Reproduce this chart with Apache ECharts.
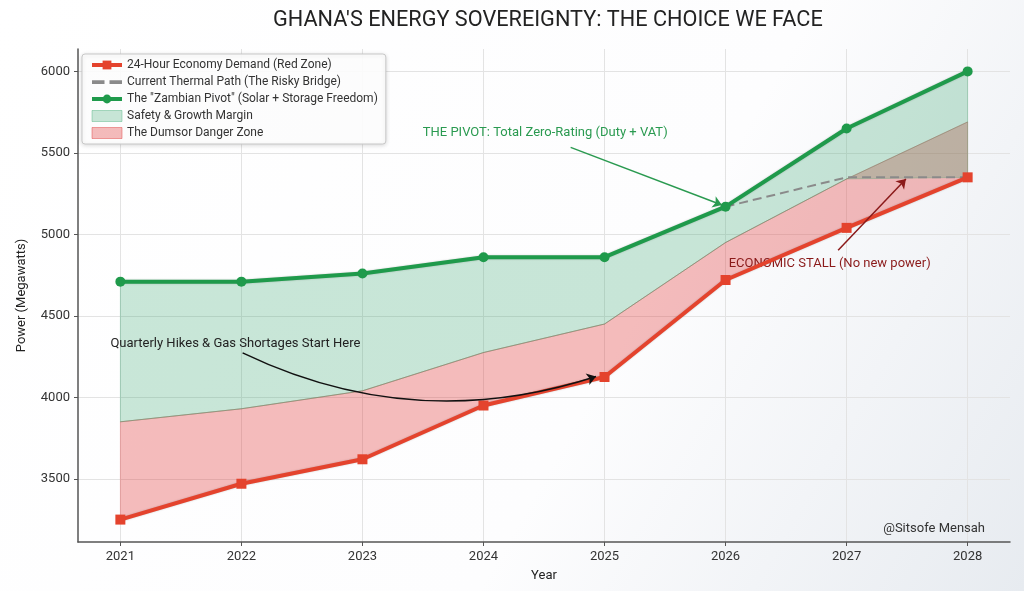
<!DOCTYPE html>
<html>
<head>
<meta charset="utf-8">
<title>Ghana's Energy Sovereignty</title>
<script src="https://cdn.jsdelivr.net/npm/echarts@6/dist/echarts.min.js"></script>
<style>
html, body { margin: 0; padding: 0; }
#main { width: 1024px; height: 591px; }
</style>
</head>
<body>
<div id="main"></div>
<script>
// values
var years = [2021, 2022, 2023, 2024, 2025, 2026, 2027, 2028];
var demand = [3250, 3470, 3620, 3950, 4125, 4720, 5040, 5350];
var pivot = [4710, 4710, 4760, 4860, 4860, 5170, 5650, 6000];
var thermal = [null, null, null, null, null, 5170, 5350, 5350];
var dangerTop = [3850, 3930, 4040, 4275, 4450, 4950, 5340, 5690];
var marginBottom = [3850, 3930, 4040, 4275, 4450, 4950, 5340, 5350];
var yTicks = [3500, 4000, 4500, 5000, 5500, 6000];

// annotation text [x, y, text, colour] and arrows [from, to, colour, curveness]
var notes = [
    [2024.51, 5626, 'THE PIVOT: Total Zero-Rating (Duty + VAT)', '#2a9a50'],
    [2021.95, 4328, 'Quarterly Hikes & Gas Shortages Start Here', '#222222'],
    [2026.86, 4822, 'ECONOMIC STALL (No new power)', '#8b1a1a']
];
var arrows = [
    [[2024.72, 5534], [2025.97, 5180], '#2a9a50', 0],
    [[2022.01, 4273], [2024.93, 4128], '#111111', -0.2],
    [[2026.93, 4902], [2027.49, 5340], '#8b1a1a', 0]
];

var font = 'Roboto';
var redFill = 'rgba(225,60,60,0.34)';
var greenFill = 'rgba(40,160,100,0.25)';

function pairs(arr) {
    return years.map(function (y, i) { return [y, arr[i]]; });
}

// filled band between two lines, drawn with the chart's own coordinates
function band(name, upper, lower, color, stroke, edge) {
    return {
        name: name,
        type: 'custom',
        silent: true,
        z: 1,
        itemStyle: { color: color },
        data: [[years[0], lower[0]]],
        renderItem: function (params, api) {
            var top = years.map(function (y, i) { return api.coord([y, upper[i]]); });
            var bottom = years.map(function (y, i) { return api.coord([y, lower[i]]); }).reverse();
            var children = [{
                type: 'polygon',
                shape: { points: top.concat(bottom) },
                style: { fill: color, stroke: stroke, lineWidth: 1 }
            }];
            if (edge) {
                children.push({
                    type: 'polyline',
                    shape: { points: top },
                    style: { fill: null, stroke: edge, lineWidth: 1 }
                });
            }
            return { type: 'group', children: children };
        }
    };
}

var myChart = echarts.init(document.getElementById('main'));

myChart.setOption({
    backgroundColor: {
        type: 'linear', x: 0, y: 0, x2: 1, y2: 1,
        colorStops: [
            { offset: 0, color: '#ffffff' },
            { offset: 0.6, color: '#fdfdfe' },
            { offset: 1, color: '#e7ebf0' }
        ]
    },
    animation: false,
    title: {
        text: "GHANA'S ENERGY SOVEREIGNTY: THE CHOICE WE FACE",
        left: 268,
        top: 5,
        textStyle: { fontFamily: font, fontSize: 21.7, fontWeight: 'normal', color: '#222' }
    },
    grid: { left: 78, right: 14, top: 49, bottom: 49 },
    legend: {
        orient: 'vertical',
        left: 82,
        top: 54,
        padding: [5, 8],
        itemGap: 5,
        itemWidth: 30,
        itemHeight: 11,
        backgroundColor: 'rgba(255,255,255,0.92)',
        borderColor: '#c8c8c8',
        borderWidth: 1,
        borderRadius: 3,
        shadowColor: 'rgba(0,0,0,0.15)',
        shadowBlur: 4,
        shadowOffsetY: 1,
        textStyle: { fontFamily: font, fontSize: 12, color: '#333' },
        data: [
            { name: '24-Hour Economy Demand (Red Zone)', lineStyle: { width: 4 } },
            { name: 'Current Thermal Path (The Risky Bridge)',
              icon: 'path://M0,0h10v3h-10z M14,0h10v3h-10z', itemStyle: { color: '#8a8a8a' } },
            { name: 'The "Zambian Pivot" (Solar + Storage Freedom)', lineStyle: { width: 4 } },
            { name: 'Safety & Growth Margin', icon: 'rect',
              itemStyle: { color: greenFill, borderColor: 'rgba(40,160,100,0.35)', borderWidth: 1 } },
            { name: 'The Dumsor Danger Zone', icon: 'rect',
              itemStyle: { color: redFill, borderColor: 'rgba(225,60,60,0.45)', borderWidth: 1 } }
        ]
    },
    xAxis: {
        type: 'value',
        min: 2020.65,
        max: 2028.35,
        name: 'Year',
        nameLocation: 'middle',
        nameGap: 27,
        nameTextStyle: { fontFamily: font, fontSize: 13, color: '#222' },
        axisLine: { lineStyle: { color: '#555', width: 1.5 } },
        axisTick: { show: true, length: 4, customValues: years, lineStyle: { color: '#555' } },
        axisLabel: { customValues: years, fontFamily: font, fontSize: 13, color: '#333', margin: 8,
                     formatter: function (v) { return String(v); } },
        splitLine: { show: true, lineStyle: { color: '#e3e3e3', width: 1 } }
    },
    yAxis: {
        type: 'value',
        min: 3112.5,
        max: 6137.5,
        name: 'Power (Megawatts)',
        nameLocation: 'middle',
        nameGap: 50,
        nameTextStyle: { fontFamily: font, fontSize: 13, color: '#222' },
        axisLine: { show: true, lineStyle: { color: '#555', width: 1.5 } },
        axisTick: { show: true, length: 4, customValues: yTicks, lineStyle: { color: '#555' } },
        axisLabel: { customValues: yTicks, fontFamily: font, fontSize: 13, color: '#333', margin: 8,
                     formatter: function (v) { return String(v); } },
        splitLine: { show: true, lineStyle: { color: '#e3e3e3', width: 1 } }
    },
    graphic: [{
        type: 'text',
        right: 39,
        top: 522,
        style: { text: '@Sitsofe Mensah', fontFamily: font, fontSize: 13, fill: '#333' },
        z: 100
    }],
    series: [
        band('The Dumsor Danger Zone', dangerTop, demand, redFill, 'rgba(225,60,60,0.25)', 'rgba(160,110,100,0.5)'),
        band('Safety & Growth Margin', pivot, marginBottom, greenFill, 'rgba(40,160,100,0.25)', null),
        {
            name: 'Current Thermal Path (The Risky Bridge)', type: 'line',
            data: pairs(thermal), symbol: 'none', color: '#8a8a8a',
            lineStyle: { type: [9, 5], width: 2, color: '#8a8a8a' }, z: 3
        },
        {
            name: '24-Hour Economy Demand (Red Zone)', type: 'line',
            data: pairs(demand), symbol: 'rect', symbolSize: 10, color: '#e4432d',
            lineStyle: { width: 4, color: '#e4432d', shadowColor: 'rgba(0,0,0,0.2)', shadowBlur: 2 },
            itemStyle: { color: '#e4432d' }, z: 5,
            markPoint: {
                silent: true,
                symbol: 'rect',
                symbolSize: 1,
                itemStyle: { color: 'rgba(0,0,0,0)' },
                data: notes.map(function (n) {
                    return {
                        coord: [n[0], n[1]],
                        label: { show: true, position: 'inside', formatter: n[2],
                                 fontFamily: font, fontSize: 13, color: n[3] }
                    };
                })
            }
        },
        {
            name: 'The "Zambian Pivot" (Solar + Storage Freedom)', type: 'line',
            data: pairs(pivot), symbol: 'circle', symbolSize: 10, color: '#1f9a4b',
            lineStyle: { width: 4, color: '#1f9a4b', shadowColor: 'rgba(0,0,0,0.2)', shadowBlur: 2 },
            itemStyle: { color: '#1f9a4b' }, z: 5
        },
        {
            name: 'arrows', type: 'lines',
            coordinateSystem: 'cartesian2d',
            silent: true,
            symbol: ['none', 'arrow'],
            symbolSize: 9,
            z: 6,
            data: arrows.map(function (a) {
                return {
                    coords: [a[0], a[1]],
                    lineStyle: { color: a[2], width: 1.5, curveness: a[3], opacity: 1 }
                };
            })
        }
    ]
});

window.onresize = function () {
    myChart.resize();
};
</script>
</body>
</html>
